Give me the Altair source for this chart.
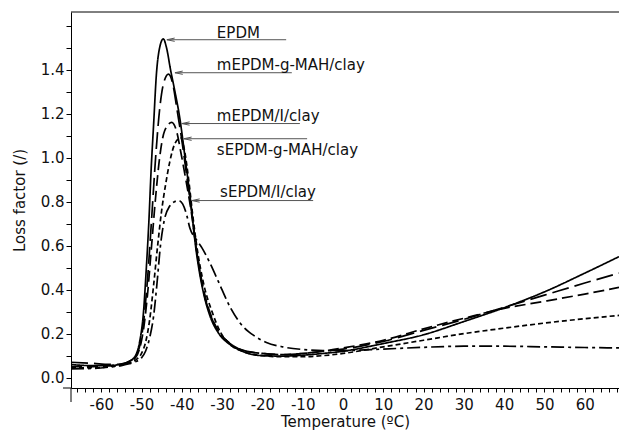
import altair as alt
import pandas as pd

# ---------------- data ----------------
SERIES = ["EPDM", "mEPDM-g-MAH/clay", "mEPDM/I/clay", "sEPDM-g-MAH/clay", "sEPDM/I/clay"]

EPDM_T = [-67.5, -63, -58, -55, -53, -51.5, -50.5, -49.5, -48.8, -48.2, -47.6, -47, -46.3, -45.5, -44.6,
          -43.8, -42.8, -41.7, -40.5, -39.2, -37.8, -36.6, -34.8, -33, -30.8, -28, -25, -20, -15, -10, -5,
          0, 10, 20, 30, 40, 50, 60, 68.5]
EPDM_V = [0.06, 0.055, 0.055, 0.062, 0.075, 0.1, 0.16, 0.3, 0.5, 0.7, 0.95, 1.15, 1.38, 1.5, 1.54,
          1.5, 1.4, 1.3, 1.18, 1.0, 0.8, 0.6, 0.4, 0.28, 0.2, 0.15, 0.12, 0.1, 0.098, 0.102, 0.11,
          0.12, 0.155, 0.195, 0.255, 0.318, 0.39, 0.475, 0.55]

MGM_T = [-67.5, -62, -58, -55, -53, -51.5, -50.5, -49.5, -48.5, -47.5, -46.5, -45.5, -44.5, -43.3, -42.3,
         -41.2, -40, -38.8, -37.6, -36.5, -34.7, -32.8, -30.5, -28, -25, -20, -15, -10, -5, 0, 10, 20,
         30, 40, 50, 60, 68.5]
MGM_V = [0.07, 0.065, 0.06, 0.062, 0.075, 0.095, 0.14, 0.25, 0.45, 0.72, 1.0, 1.22, 1.34, 1.38, 1.34,
         1.22, 1.08, 0.92, 0.76, 0.6, 0.4, 0.28, 0.2, 0.155, 0.125, 0.11, 0.105, 0.11, 0.12, 0.13, 0.165,
         0.215, 0.265, 0.32, 0.375, 0.43, 0.475]

MEI_T = [-67.5, -62, -58, -55, -53, -51.5, -50.5, -49.5, -48.5, -47.5, -46.5, -45.5, -44.3, -42.5, -41.3,
         -40.2, -39, -37.7, -36.5, -34.6, -32.7, -30.5, -28, -25, -20, -15, -10, -5, 0, 10, 20, 30, 40,
         50, 60, 68.5]
MEI_V = [0.05, 0.05, 0.055, 0.06, 0.072, 0.09, 0.13, 0.22, 0.38, 0.6, 0.82, 1.0, 1.12, 1.16, 1.12,
         1.02, 0.9, 0.76, 0.6, 0.4, 0.28, 0.2, 0.155, 0.125, 0.11, 0.105, 0.11, 0.12, 0.135, 0.17, 0.222,
         0.27, 0.315, 0.347, 0.38, 0.41]

SGM_T = [-67.5, -62, -58, -55, -53, -51.5, -50, -49, -48, -47, -46, -45, -44, -43, -41.8, -40.3, -39.3,
         -38.3, -37.3, -36.3, -34.5, -32.5, -30.5, -28, -25, -20, -15, -10, -5, 0, 10, 20, 30, 40, 50,
         60, 68.5]
SGM_V = [0.045, 0.045, 0.05, 0.058, 0.068, 0.08, 0.11, 0.16, 0.26, 0.42, 0.6, 0.76, 0.88, 0.98, 1.06,
         1.09, 1.03, 0.9, 0.74, 0.6, 0.42, 0.3, 0.21, 0.15, 0.12, 0.1, 0.095, 0.095, 0.1, 0.11, 0.14,
         0.17, 0.2, 0.225, 0.248, 0.268, 0.283]

SEI_T = [-67.5, -62, -58, -55, -53, -51.5, -50, -49, -48, -47, -46.2, -45.3, -44.3, -43, -41.8, -40.8,
         -39.8, -38.8, -38, -36.5, -35, -33, -31, -28, -25.6, -22, -19, -15, -10, -5, 0, 10, 20, 30, 40,
         50, 60, 68.5]
SEI_V = [0.04, 0.042, 0.048, 0.055, 0.063, 0.072, 0.09, 0.12, 0.18, 0.28, 0.42, 0.6, 0.72, 0.78, 0.8,
         0.805, 0.79, 0.74, 0.68, 0.63, 0.59, 0.52, 0.44, 0.32, 0.25, 0.19, 0.16, 0.14, 0.128, 0.123,
         0.123, 0.13, 0.138, 0.143, 0.143, 0.14, 0.137, 0.135]

# annotation arrows: label, arrow tip x, arrow y, line end x, text x, text baseline y
ANN_LABEL = SERIES
ANN_TIP_X = [-43.7, -41.7, -40.0, -39.5, -37.5]
ANN_Y = [1.536, 1.386, 1.155, 1.086, 0.805]
ANN_END_X = [-14.1, -12.7, -10.7, -8.9, -7.4]
ANN_TEXT_X = [-31.3, -31.3, -31.3, -31.3, -30.5]
ANN_TEXT_Y = [1.545, 1.40, 1.166, 1.014, 0.823]

X_TICKS = list(range(-66, 69, 2))
Y_TICKS = [round(i * 0.1, 1) for i in range(17)]

DASHES = [[1, 0], [17, 6], [11, 5], [5, 3], [13, 4, 3, 4]]

# ---------------- build tables ----------------
frames = []
for name, t, v in zip(SERIES, [EPDM_T, MGM_T, MEI_T, SGM_T, SEI_T], [EPDM_V, MGM_V, MEI_V, SGM_V, SEI_V]):
    frames.append(pd.DataFrame({"T": t, "V": v, "series": name}))
df = pd.concat(frames, ignore_index=True)

ann = pd.DataFrame({"label": ANN_LABEL, "tip": ANN_TIP_X, "ly": ANN_Y, "end": ANN_END_X,
                    "tx": ANN_TEXT_X, "ty": ANN_TEXT_Y})
one = pd.DataFrame({"k": [0]})

W, H = 548, 376
FONT = "DejaVu Sans"
XT = "Temperature (ºC)"
YT = "Loss factor (/)"
xs = alt.Scale(domain=[-67.5, 68.5], nice=False, zero=False)
ys = alt.Scale(domain=[-0.047, 1.662], nice=False, zero=False)

x_axis = alt.Axis(values=X_TICKS,
                  labelExpr="datum.value % 10 == 0 && abs(datum.value) <= 60 ? '' + datum.value : ''",
                  tickSize=4, labelPadding=5, titlePadding=2, labelOverlap=False, labelFlush=False)
y_axis = alt.Axis(values=Y_TICKS,
                  labelExpr="datum.value < 1.45 && round(datum.value * 10) % 2 == 0 ? format(datum.value, '.1f') : ''",
                  tickSize=5, labelPadding=2, titlePadding=13, labelOverlap=False, labelFlush=False)

lines = alt.Chart(df).mark_line(color="black", strokeWidth=1.7, interpolate="monotone", clip=True).encode(
    x=alt.X("T:Q", scale=xs, title=XT, axis=x_axis),
    y=alt.Y("V:Q", scale=ys, title=YT, axis=y_axis),
    strokeDash=alt.StrokeDash("series:N", scale=alt.Scale(domain=SERIES, range=DASHES), legend=None),
)

rules = alt.Chart(ann).mark_rule(color="#555555", strokeWidth=1).encode(
    x=alt.X("tip:Q", scale=xs, title=XT, axis=x_axis), x2="end:Q",
    y=alt.Y("ly:Q", scale=ys, title=YT, axis=y_axis),
)
heads = alt.Chart(ann).mark_point(shape="M 2.6 -0.55 L 0 0 L 2.6 0.55", filled=False, size=36,
                                  color="#555555", strokeWidth=1, opacity=1).encode(
    x=alt.X("tip:Q", scale=xs, title=XT, axis=x_axis),
    y=alt.Y("ly:Q", scale=ys, title=YT, axis=y_axis),
)
texts = alt.Chart(ann).mark_text(align="left", baseline="alphabetic", fontSize=15, font=FONT,
                                 color="#111111").encode(
    x=alt.X("tx:Q", scale=xs, title=XT, axis=x_axis),
    y=alt.Y("ty:Q", scale=ys, title=YT, axis=y_axis),
    text="label:N",
)

top_border = alt.Chart(one).mark_rule(color="black", strokeWidth=1).encode(
    x=alt.value(0), x2=alt.value(W), y=alt.value(0))
x_overhang = alt.Chart(one).mark_rule(color="black", strokeWidth=1).encode(
    x=alt.value(-8), x2=alt.value(0), y=alt.value(H))
y_overhang = alt.Chart(one).mark_rule(color="black", strokeWidth=1).encode(
    x=alt.value(0), y=alt.value(H), y2=alt.value(H + 14))

chart = alt.layer(lines, rules, heads, texts, top_border, x_overhang, y_overhang).properties(
    width=W, height=H,
    padding={"left": 63, "top": 4, "right": 0, "bottom": 42},
    autosize=alt.AutoSizeParams(type="none"),
).configure_view(stroke=None).configure_axis(
    grid=False, domainColor="black", tickColor="black", labelColor="#111111", titleColor="#111111",
    labelFont=FONT, titleFont=FONT, labelFontSize=15, titleFontSize=15, titleFontWeight="normal",
    domainWidth=1, tickWidth=1,
)

chart.save("out.html", embed_options={"renderer": "svg", "actions": False})
